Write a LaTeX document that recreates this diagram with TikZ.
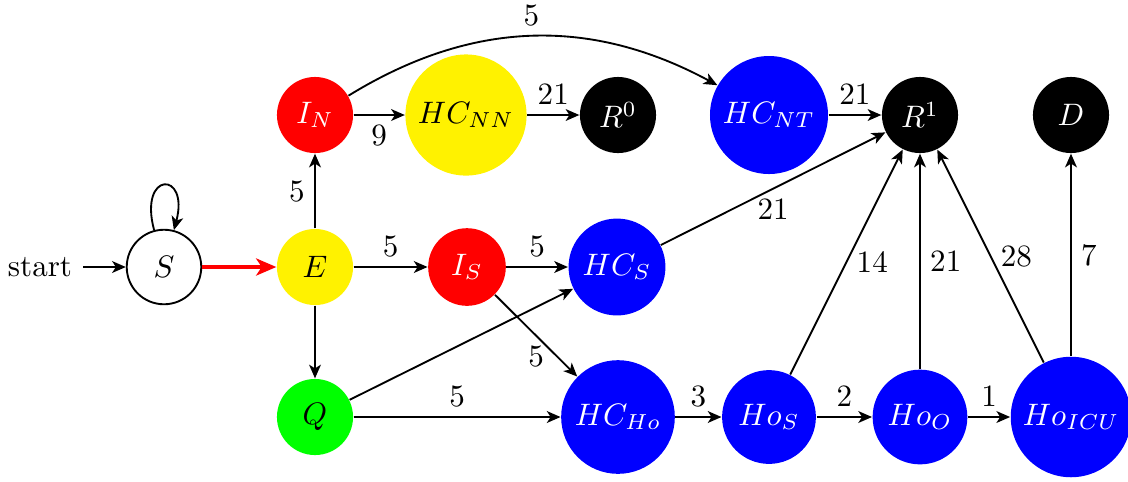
\documentclass[tikz,border=0pt]{standalone}
\usetikzlibrary{arrows.meta}
\definecolor{myyellow}{RGB}{255,242,0}
\begin{document}
\begin{tikzpicture}[x=0.322pt,y=-0.322pt,
  >={Stealth[length=4.4pt,width=3.8pt,inset=1.2pt]},
  st/.style={circle,inner sep=0pt,minimum size=24.5pt},
  redst/.style={st,fill=red,text=white},
  yelst/.style={st,fill=myyellow,text=black},
  bluest/.style={st,fill=blue,text=white},
  blkst/.style={st,fill=black,text=white},
  grnst/.style={st,fill=green,text=black},
  conn/.style={->,line width=0.6pt},
  lbl/.style={inner sep=3pt}]
\useasboundingbox (0,0) rectangle (1128,481);
% nodes
\node (start) at (40,267) {start};
\node[st,draw,line width=0.6pt,minimum size=24pt] (S) at (164,267) {$S$};
\node[yelst] (E) at (315,267) {$E$};
\node[redst] (IN) at (315,115) {$I_N$};
\node[yelst,minimum size=39pt] (HCNN) at (466,115) {$HC_{NN}$};
\node[blkst] (R0) at (618,115) {$R^0$};
\node[bluest,minimum size=38pt] (HCNT) at (769,115) {$HC_{NT}$};
\node[blkst] (R1) at (920,115) {$R^1$};
\node[blkst] (D) at (1071,115) {$D$};
\node[redst,minimum size=25pt] (IS) at (467,267) {$I_S$};
\node[bluest,minimum size=31.2pt] (HCS) at (617,267) {$HC_S$};
\node[grnst] (Q) at (315,417) {$Q$};
\node[bluest,minimum size=36.6pt] (HCHo) at (618,417) {$HC_{Ho}$};
\node[bluest,minimum size=30.2pt] (HoS) at (769,417) {$Ho_S$};
\node[bluest,minimum size=30.5pt] (HoO) at (920,417) {$Ho_O$};
\node[bluest,minimum size=38.8pt] (HoICU) at (1071,417) {$Ho_{ICU}$};
% edges
\draw[conn] (start) -- (S);
\draw[conn] (S) to[loop above] (S);
\draw[-{Stealth[length=6.5pt,width=5.5pt,inset=1.8pt]},red,line width=1.3pt] (S) -- (E);
\draw[conn] (E) -- node[lbl,left] {5} (IN);
\draw[conn] (E) -- node[lbl,above] {5} (IS);
\draw[conn] (E) -- (Q);
\draw[conn] (IN) -- node[lbl,below] {9} (HCNN);
\draw[conn] (IN) to[bend left=30] node[lbl,above] {5} (HCNT);
\draw[conn] (HCNN) -- node[lbl,above] {21} (R0);
\draw[conn] (HCNT) -- node[lbl,above] {21} (R1);
\draw[conn] (IS) -- node[lbl,above] {5} (HCS);
\draw[conn] (IS) -- node[lbl,below] {5} (HCHo);
\draw[conn] (HCS) -- node[lbl,below] {21} (R1);
\draw[conn] (Q) -- (HCS);
\draw[conn] (Q) -- node[lbl,above] {5} (HCHo);
\draw[conn] (HCHo) -- node[lbl,above] {3} (HoS);
\draw[conn] (HoS) -- node[lbl,above] {2} (HoO);
\draw[conn] (HoO) -- node[lbl,above] {1} (HoICU);
\draw[conn] (HoS) -- node[lbl,right] {14} (R1);
\draw[conn] (HoO) -- node[lbl,right] {21} (R1);
\draw[conn] (HoICU) -- node[lbl,right] {28} (R1);
\draw[conn] (HoICU) -- node[lbl,right] {7} (D);
\end{tikzpicture}
\end{document}
